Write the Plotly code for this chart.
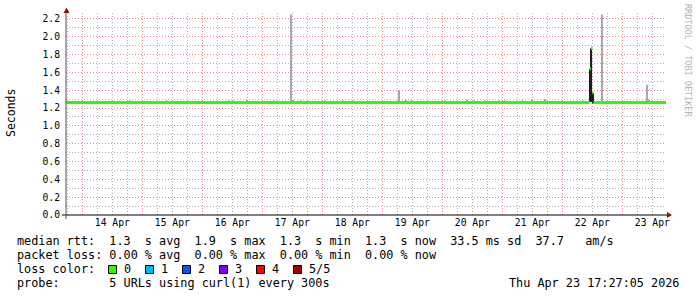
import plotly.graph_objects as go
import pandas as pd

# ---------------- data ----------------
START = "2026-04-13 17:27:05"
END = "2026-04-23 17:27:05"

# median rtt (seconds) as a step series: value holds from each change time
median_change_times = ["2026-04-13 17:27", "2026-04-22 10:50", "2026-04-22 11:26",
                       "2026-04-22 12:02", "2026-04-22 12:26"]
median_values = [1.262, 1.64, 1.87, 1.37, 1.262]

# smoke (rtt spread of the 5 probes): time, low, high, number of probes in range
smoke_times = ["2026-04-14 19:02", "2026-04-15 09:50", "2026-04-16 10:38", "2026-04-16 12:14",
               "2026-04-16 17:43", "2026-04-17 04:38", "2026-04-17 11:26", "2026-04-17 12:26",
               "2026-04-17 15:26", "2026-04-18 01:02", "2026-04-18 08:14", "2026-04-18 12:14",
               "2026-04-19 06:38", "2026-04-19 09:19", "2026-04-19 11:26", "2026-04-20 01:02",
               "2026-04-20 09:50", "2026-04-20 12:38", "2026-04-20 17:02", "2026-04-20 22:38",
               "2026-04-21 01:02", "2026-04-21 07:50", "2026-04-21 11:50", "2026-04-21 17:02",
               "2026-04-22 08:14", "2026-04-22 11:02", "2026-04-22 11:38", "2026-04-22 12:14",
               "2026-04-22 15:50", "2026-04-23 09:50", "2026-04-23 10:38"]
smoke_low = [1.26, 1.26, 1.26, 1.26, 1.26, 1.26, 1.26, 1.26,
             1.26, 1.26, 1.26, 1.26, 1.26, 1.26, 1.26, 1.26,
             1.26, 1.26, 1.26, 1.26, 1.26, 1.26, 1.26, 1.26,
             1.26, 1.27, 1.27, 1.25, 1.26, 1.26, 1.26]
smoke_high = [1.285, 1.285, 1.285, 1.285, 1.29, 1.285, 2.25, 1.29,
              1.285, 1.285, 1.285, 1.285, 1.40, 1.29, 1.285, 1.285,
              1.29, 1.285, 1.285, 1.285, 1.285, 1.285, 1.295, 1.30,
              1.285, 1.64, 1.87, 1.37, 2.25, 1.46, 1.29]
smoke_density = [2, 2, 2, 2, 2, 2, 1, 2,
                 2, 2, 2, 2, 1, 2, 2, 2,
                 2, 2, 2, 2, 2, 2, 2, 2,
                 2, 5, 5, 5, 1, 1, 2]

loss_labels = ["0", "1", "2", "3", "4", "5/5"]
loss_colors = ["#26ff00", "#00b8ff", "#0059ff", "#7e00ff", "#ff0000", "#a10000"]

legend_median = "median rtt:  1.3  s avg  1.9  s max  1.3  s min  1.3  s now  33.5 ms sd  37.7   am/s"
legend_loss = "packet loss: 0.00 % avg  0.00 % max  0.00 % min  0.00 % now"
legend_probe = "probe:       5 URLs using curl(1) every 300s"
stamp = "Thu Apr 23 17:27:05 2026"

# ---------------- figure ----------------
W, H = 697, 297
ML, MR, MT, MB = 66, 31, 13, 82
PW, PH = W - ML - MR, H - MT - MB


def X(px):
    return (px - ML) / PW


def Y(py):
    return (H - MB - py) / PH


shade = {1: "#a8a8a8", 2: "#9a9a9a", 3: "#707070", 4: "#454545", 5: "#1e1e1e"}

fig = go.Figure()

fig.add_trace(go.Bar(
    x=pd.to_datetime(smoke_times, format="%Y-%m-%d %H:%M"),
    y=[h - l for h, l in zip(smoke_high, smoke_low)],
    base=smoke_low,
    width=30 * 60 * 1000,
    marker=dict(color=[shade[d] for d in smoke_density], line=dict(width=0)),
    hoverinfo="skip",
))

# median as flat step segments (no vertical risers)
ct = list(pd.to_datetime(median_change_times, format="%Y-%m-%d %H:%M")) + [pd.Timestamp(END)]
mx, my = [], []
for i, v in enumerate(median_values):
    mx += [ct[i], ct[i + 1], None]
    my += [v, v, None]
fig.add_trace(go.Scatter(x=mx, y=my, mode="lines",
                         line=dict(color="#26ff00", width=3), hoverinfo="skip"))

mono = "DejaVu Sans Mono"
fig.update_layout(
    width=W, height=H,
    margin=dict(l=ML, r=MR, t=MT, b=MB),
    paper_bgcolor="white", plot_bgcolor="white",
    showlegend=False, barmode="overlay",
    font=dict(family=mono, size=11.8, color="black"),
)

MAJ = "rgba(235,100,100,0.8)"
MIN = "rgba(165,165,165,0.85)"
DASH = "1px,2px"

fig.update_xaxes(
    type="date", range=[START, END],
    dtick=86400000, tick0="2026-04-14", tickformat="%d %b", ticklabelmode="period",
    showgrid=True, gridcolor=MAJ, griddash=DASH, gridwidth=1,
    minor=dict(dtick=21600000, tick0="2026-04-14", showgrid=True,
               gridcolor=MIN, griddash=DASH, gridwidth=1),
    ticks="", showline=False, zeroline=False,
    tickfont=dict(family=mono, size=9.7, color="black"),
)
fig.update_yaxes(
    range=[0, 2.267], dtick=0.2, tick0=0, tickformat=".1f",
    showgrid=True, gridcolor=MAJ, griddash=DASH, gridwidth=1,
    minor=dict(dtick=0.1, showgrid=True, gridcolor=MIN,
               griddash=DASH, gridwidth=1),
    ticks="", showline=False, zeroline=False, ticklabelstandoff=5,
    tickfont=dict(family=mono, size=9.7, color="black"),
)

shapes = []
# axes
shapes.append(dict(type="line", xref="paper", yref="paper", x0=X(62), x1=X(667),
                   y0=0, y1=0, line=dict(color="black", width=1)))
shapes.append(dict(type="line", xref="paper", yref="paper", x0=0, x1=0,
                   y0=Y(219), y1=Y(12), line=dict(color="#555555", width=1)))
# arrow heads
ax = X(667); bx = X(672)
shapes.append(dict(type="path", xref="paper", yref="paper",
                   path=f"M {ax},{Y(212)} L {bx},{Y(215)} L {ax},{Y(218)} Z",
                   fillcolor="#8b1010", line=dict(color="#8b1010", width=0)))
shapes.append(dict(type="path", xref="paper", yref="paper",
                   path=f"M {X(63.5)},{Y(13)} L {X(66.5)},{Y(7.5)} L {X(69.5)},{Y(13)} Z",
                   fillcolor="#8b1010", line=dict(color="#8b1010", width=0)))

# loss colour boxes
box_left = [108.5, 145.5, 182.5, 219.5, 256.5, 293.5]
label_left = [122, 159, 196, 233, 270, 307]
for bxp, c in zip(box_left, loss_colors):
    shapes.append(dict(type="rect", xref="paper", yref="paper",
                       x0=X(bxp), x1=X(bxp + 8), y0=Y(273.5), y1=Y(265.5),
                       fillcolor=c, line=dict(color="black", width=1)))

nb = lambda s: s.replace(" ", "\u00a0")
ann = []
def txt(s, px, py, anchor="left", size=11.8, color="black", angle=0):
    ann.append(dict(text=nb(s), xref="paper", yref="paper", x=X(px), y=Y(py),
                    xanchor=anchor, yanchor="middle", showarrow=False, textangle=angle,
                    font=dict(family=mono, size=size, color=color)))

txt(legend_median, 15, 241.5)
txt(legend_loss, 15, 255)
txt("loss color:", 15, 269)
for lab, lx in zip(loss_labels, label_left):
    txt(lab, lx, 269)
txt(legend_probe, 15, 283)
txt(stamp, 681, 283, anchor="right")
txt("Seconds", 11, 113, anchor="center", size=11.5, angle=-90)
txt("RRDTOOL / TOBI OETIKER", 688, 60, anchor="center", size=8.5, color="#b4b4b4", angle=90)

fig.update_layout(shapes=shapes, annotations=ann)
fig.write_html("out.html")
